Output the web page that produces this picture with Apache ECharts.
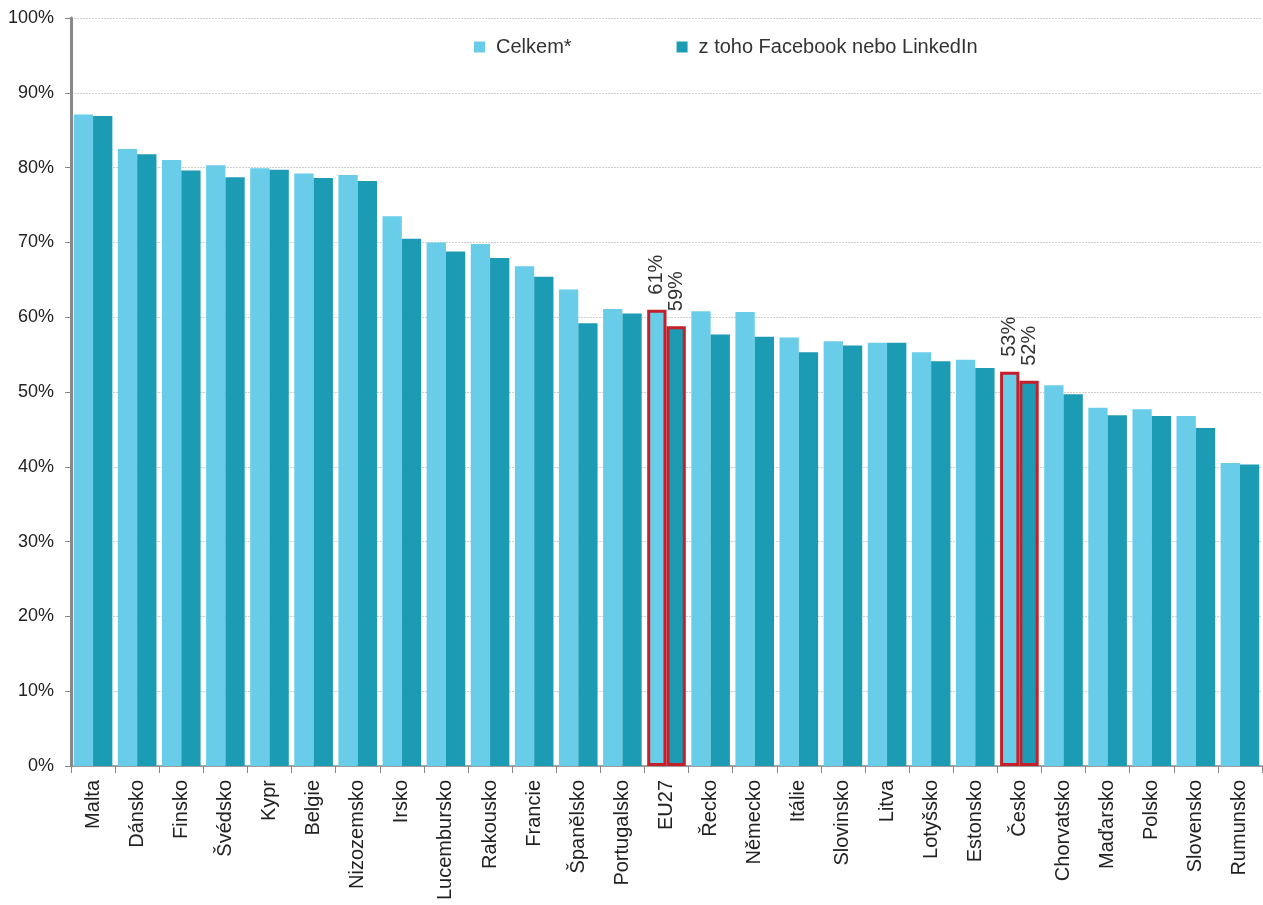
<!DOCTYPE html>
<html>
<head>
<meta charset="utf-8">
<script src="https://cdn.jsdelivr.net/npm/echarts@6/dist/echarts.min.js"></script>
<style>
  html, body { margin: 0; padding: 0; background: #fff; }
  #chart { width: 1263px; height: 905px; }
</style>
</head>
<body>
<div id="chart"></div>
<script>
const countries = ['Malta', 'Dánsko', 'Finsko', 'Švédsko', 'Kypr', 'Belgie', 'Nizozemsko', 'Irsko',
  'Lucembursko', 'Rakousko', 'Francie', 'Španělsko', 'Portugalsko', 'EU27', 'Řecko', 'Německo',
  'Itálie', 'Slovinsko', 'Litva', 'Lotyšsko', 'Estonsko', 'Česko', 'Chorvatsko', 'Maďarsko',
  'Polsko', 'Slovensko', 'Rumunsko'];
const celkem = [87.1, 82.5, 81.0, 80.3, 79.9, 79.2, 79.0, 73.5, 70.0, 69.8, 66.8, 63.7, 61.1, 61.0,
  60.8, 60.7, 57.3, 56.8, 56.6, 55.3, 54.3, 52.7, 50.9, 47.9, 47.7, 46.8, 40.5];
const fbLinkedin = [86.9, 81.8, 79.6, 78.7, 79.7, 78.6, 78.2, 70.5, 68.8, 67.9, 65.4, 59.2, 60.5, 58.8,
  57.7, 57.4, 55.3, 56.2, 56.6, 54.1, 53.2, 51.5, 49.7, 46.9, 46.8, 45.2, 40.3];
const highlighted = ['EU27', 'Česko'];
const yTicks = [0, 10, 20, 30, 40, 50, 60, 70, 80, 90, 100];

const FONT = '"Liberation Sans", Arial, sans-serif';
const LIGHT = '#69CDEA';
const DARK = '#1C9BB4';
const RED = '#C41F2A';

function buildData(values) {
  return values.map((v, i) => {
    if (highlighted.indexOf(countries[i]) < 0) return v;
    return {
      value: v,
      itemStyle: { borderColor: RED, borderWidth: 3 },
      label: {
        show: true,
        position: 'top',
        rotate: 90,
        align: 'left',
        verticalAlign: 'middle',
        distance: 15,
        fontSize: 20,
        fontFamily: FONT,
        color: '#333',
        formatter: p => Math.round(p.value) + '%'
      }
    };
  });
}

const chart = echarts.init(document.getElementById('chart'));
chart.setOption({
  animation: false,
  textStyle: { fontFamily: FONT },
  legend: {
    left: 469,
    top: 32,
    itemWidth: 11,
    itemHeight: 11,
    itemGap: 105,
    icon: 'rect',
    textStyle: { fontSize: 20, color: '#333', fontFamily: FONT, padding: [0, 0, 0, 6] },
    data: ['Celkem*', 'z toho Facebook nebo LinkedIn']
  },
  grid: { left: 71, right: 1, top: 18, bottom: 139, containLabel: false },
  xAxis: {
    type: 'category',
    data: countries,
    axisLine: { lineStyle: { color: '#888', width: 1.5 } },
    axisTick: { show: true, length: 7, lineStyle: { color: '#888' } },
    axisLabel: { rotate: 90, fontSize: 20, color: '#222', margin: 14, interval: 0, fontFamily: FONT }
  },
  yAxis: {
    type: 'value',
    min: yTicks[0],
    max: yTicks[yTicks.length - 1],
    interval: 10,
    axisLine: { show: true, lineStyle: { color: '#888', width: 3 } },
    axisTick: { show: true, length: 6, lineStyle: { color: '#888' } },
    axisLabel: { fontSize: 18, color: '#222', margin: 17, formatter: '{value}%', fontFamily: FONT },
    splitLine: { show: true, lineStyle: { color: '#cfcfcf', type: [2, 1], width: 1 } }
  },
  series: [
    {
      name: 'Celkem*',
      type: 'bar',
      data: buildData(celkem),
      itemStyle: { color: LIGHT },
      barGap: '0%',
      barCategoryGap: '12.5%'
    },
    {
      name: 'z toho Facebook nebo LinkedIn',
      type: 'bar',
      data: buildData(fbLinkedin),
      itemStyle: { color: DARK },
      barGap: '0%',
      barCategoryGap: '12.5%'
    }
  ]
});
</script>
</body>
</html>
